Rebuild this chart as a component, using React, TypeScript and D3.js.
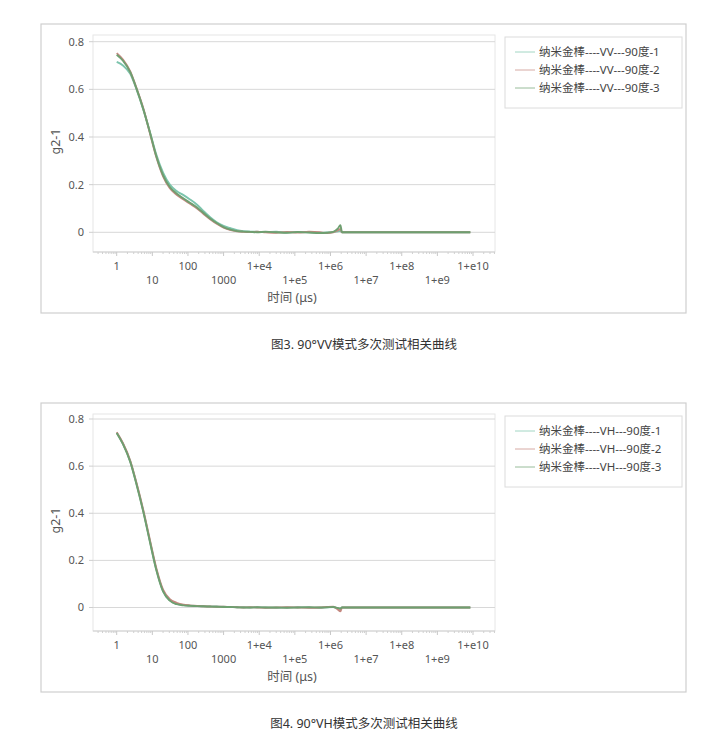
import React from "react";
import * as d3 from "d3";

// time (μs)
const times = [1, 1.5, 2.4, 3.6, 5.6, 8.6, 13, 20, 31, 48, 75, 114, 180, 270, 420, 640, 1000, 1500, 2400, 3600, 5500, 8700, 1.5e4, 3e4, 6e4, 1.2e5, 2.5e5, 5e5, 8e5, 1.2e6, 1.6e6, 1.9e6, 2.1e6, 3e6, 1e7, 1e8, 1e9, 8.4e9];

const vv1 = [0.715, 0.7, 0.665, 0.6, 0.515, 0.42, 0.325, 0.25, 0.2, 0.173, 0.156, 0.138, 0.116, 0.09, 0.063, 0.042, 0.027, 0.018, 0.009, 0.005, 0.003, 0.002, 0.001, 0.002, -0.001, 0.001, 0.0, -0.002, -0.001, 0.001, 0.004, 0.006, 0, 0, 0, 0, 0, 0];
const vv2 = [0.752, 0.725, 0.675, 0.605, 0.52, 0.415, 0.315, 0.235, 0.185, 0.158, 0.138, 0.12, 0.1, 0.078, 0.055, 0.036, 0.02, 0.01, 0.004, 0.002, 0.001, 0.002, 0.0, -0.002, 0.001, -0.001, 0.002, 0.0, -0.003, 0.0, 0.008, 0.014, 0, 0, 0, 0, 0, 0];
const vv3 = [0.745, 0.72, 0.672, 0.603, 0.516, 0.418, 0.318, 0.24, 0.19, 0.163, 0.142, 0.124, 0.104, 0.082, 0.058, 0.039, 0.022, 0.012, 0.005, 0.003, 0.002, 0.0, 0.002, 0.0, -0.002, 0.001, -0.001, -0.003, -0.002, 0.002, 0.015, 0.03, 0, 0, 0, 0, 0, 0];

const vh1 = [0.742, 0.695, 0.62, 0.525, 0.408, 0.28, 0.16, 0.07, 0.03, 0.015, 0.01, 0.008, 0.006, 0.005, 0.004, 0.004, 0.003, 0.002, 0.001, 0.001, 0.0, 0.001, 0.0, -0.001, 0.0, 0.001, 0.0, -0.001, 0.001, 0.002, -0.004, -0.008, 0, 0, 0, 0, 0, 0];
const vh2 = [0.744, 0.697, 0.623, 0.528, 0.412, 0.285, 0.166, 0.076, 0.035, 0.02, 0.012, 0.009, 0.007, 0.005, 0.004, 0.003, 0.003, 0.002, 0.001, 0.0, 0.001, 0.0, -0.001, 0.0, 0.001, 0.0, -0.001, 0.0, 0.002, 0.003, -0.008, -0.016, 0, 0, 0, 0, 0, 0];
const vh3 = [0.741, 0.693, 0.618, 0.522, 0.405, 0.277, 0.158, 0.068, 0.029, 0.014, 0.009, 0.007, 0.006, 0.005, 0.004, 0.003, 0.002, 0.002, 0.001, 0.0, 0.0, 0.001, 0.0, 0.0, -0.001, 0.0, 0.001, 0.0, 0.001, 0.002, -0.002, -0.004, 0, 0, 0, 0, 0, 0];

const tickValues = [1, 10, 100, 1000, 1e4, 1e5, 1e6, 1e7, 1e8, 1e9, 1e10];
const tickLabels = ["1", "10", "100", "1000", "1+e4", "1+e5", "1+e6", "1+e7", "1+e8", "1+e9", "1+e10"];
const yTicks = [0, 0.2, 0.4, 0.6, 0.8];
const yTickLabels = ["0", "0.2", "0.4", "0.6", "0.8"];

const vvLabels = ["纳米金棒----VV---90度-1", "纳米金棒----VV---90度-2", "纳米金棒----VV---90度-3"];
const vhLabels = ["纳米金棒----VH---90度-1", "纳米金棒----VH---90度-2", "纳米金棒----VH---90度-3"];
const colors = ["#7cc4ad", "#c4877f", "#6e9f70"];

const FONT = "'Noto Sans', 'Noto Sans CJK SC', sans-serif";

type ChartProps = {
  frameTop: number;
  zeroY: number;
  eightY: number;
  series: number[][];
  labels: string[];
  caption: string;
};

function Chart({ frameTop, zeroY, eightY, series, labels, caption }: ChartProps) {
  const frameLeft = 41, frameRight = 686, frameH = 289;
  const plotL = 93, plotR = 495;
  const plotT = frameTop + 11, plotB = frameTop + 228;
  const x = d3.scaleLog().domain([1, 1e10]).range([116.7, 473]);
  const y = d3.scaleLinear().domain([0, 0.8]).range([zeroY, eightY]);
  const line = d3
    .line<number>()
    .x((_, i) => x(times[i]))
    .y((v) => y(v))
    .curve(d3.curveMonotoneX);

  const minor: number[] = [];
  for (let e = -1; e <= 10; e++) {
    for (let m = 2; m <= 9; m++) {
      const v = m * Math.pow(10, e);
      const px = x(v);
      if (px > plotL && px < plotR) minor.push(px);
    }
  }

  const legL = 505, legT = frameTop + 13;
  return (
    <g>
      <rect x={frameLeft} y={frameTop} width={frameRight - frameLeft} height={frameH} fill="#fff" stroke="#cfcfcf" strokeWidth={1.2} />
      <rect x={plotL} y={plotT} width={plotR - plotL} height={plotB - plotT} fill="#fff" stroke="#e6e6e6" strokeWidth={1} />
      {yTicks.map((t, i) => (
        <g key={i}>
          <line x1={plotL} x2={plotR} y1={y(t)} y2={y(t)} stroke="#d8d8d8" strokeWidth={1} />
          <line x1={plotL - 4} x2={plotL} y1={y(t)} y2={y(t)} stroke="#cfcfcf" strokeWidth={1} />
          <text x={84} y={y(t)} dy="0.35em" textAnchor="end" fontSize={11} fill="#555" fontFamily={FONT}>
            {yTickLabels[i]}
          </text>
        </g>
      ))}
      <line x1={plotL} x2={plotR} y1={plotB} y2={plotB} stroke="#cfcfcf" strokeWidth={1} />
      {minor.map((px, i) => (
        <line key={i} x1={px} x2={px} y1={plotB} y2={plotB + 2} stroke="#d0d0d0" strokeWidth={1} />
      ))}
      {tickValues.map((t, i) => (
        <g key={i}>
          <line x1={x(t)} x2={x(t)} y1={plotB} y2={plotB + 4} stroke="#c8c8c8" strokeWidth={1} />
          <text x={x(t)} y={plotB + (i % 2 === 0 ? 14 : 28)} dy="0.35em" textAnchor="middle" fontSize={11} fill="#555" fontFamily={FONT}>
            {tickLabels[i]}
          </text>
        </g>
      ))}
      <text x={292} y={plotB + 46} dy="0.35em" textAnchor="middle" fontSize={12.5} fill="#555" fontFamily={FONT}>
        时间 (μs)
      </text>
      <text transform={`translate(56,${(plotT + plotB) / 2 - 2}) rotate(-90)`} dy="0.35em" textAnchor="middle" fontSize={12.5} fill="#555" fontFamily={FONT}>
        g2-1
      </text>
      {series.map((s, i) => (
        <path key={i} d={line(s) || ""} fill="none" stroke={colors[i]} strokeWidth={1.9} />
      ))}
      <rect x={legL} y={legT} width={177} height={71} fill="#fff" stroke="#dcdcdc" strokeWidth={1} />
      {labels.map((l, i) => (
        <g key={i}>
          <line x1={legL + 10} x2={legL + 30} y1={frameTop + 28 + i * 18} y2={frameTop + 28 + i * 18} stroke={colors[i]} strokeOpacity={0.7} strokeWidth={1} />
          <text x={legL + 34} y={frameTop + 28 + i * 18} dy="0.35em" fontSize={11.5} fill="#444" fontFamily={FONT}>
            {l}
          </text>
        </g>
      ))}
      <text x={364} y={frameTop + 321} dy="0.35em" textAnchor="middle" fontSize={12.5} fill="#333" fontFamily={FONT}>
        {caption}
      </text>
    </g>
  );
}

export default function App() {
  return (
    <div style={{ position: "absolute", left: 0, top: 0 }}>
      <svg width={728} height={754} style={{ display: "block", background: "#fff" }}>
        <Chart frameTop={24} zeroY={232.3} eightY={41.7} series={[vv1, vv2, vv3]} labels={vvLabels} caption="图3. 90°VV模式多次测试相关曲线" />
        <Chart frameTop={403} zeroY={607.5} eightY={419} series={[vh1, vh2, vh3]} labels={vhLabels} caption="图4. 90°VH模式多次测试相关曲线" />
      </svg>
    </div>
  );
}
